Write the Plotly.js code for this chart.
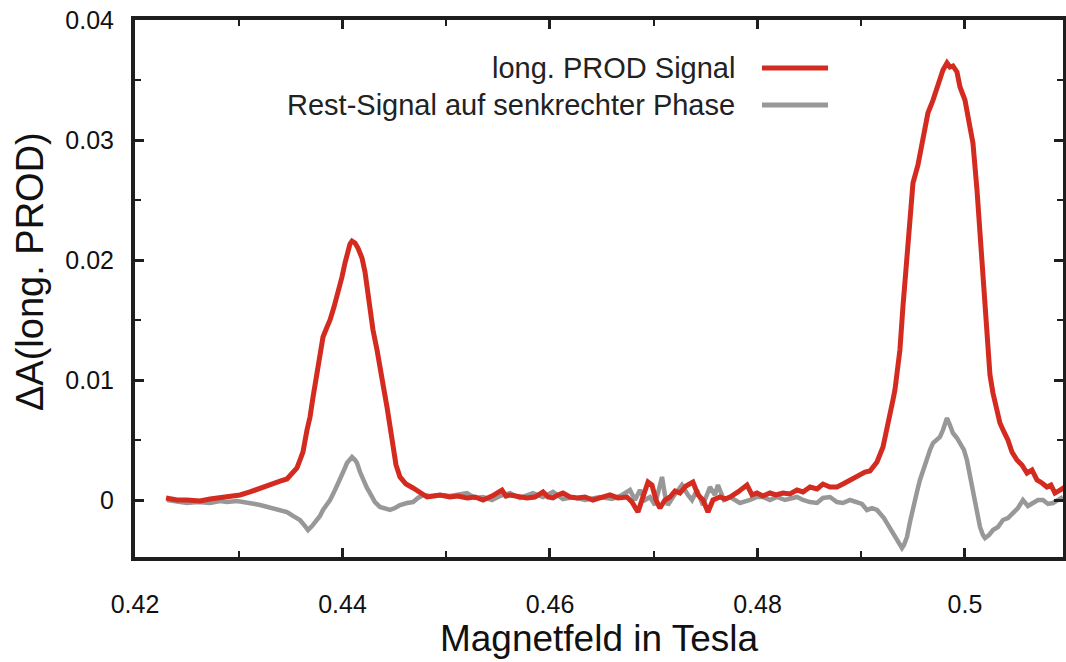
<!DOCTYPE html>
<html>
<head>
<meta charset="utf-8">
<script src="https://cdn.plot.ly/plotly-3.0.1.min.js"></script>
<style>html,body{margin:0;padding:0;background:#fff;}#chart{width:1066px;height:662px;}</style>
</head>
<body>
<div id="chart"></div>
<script>
// Magnetic field (Tesla) and signal values
const redX = [0.42299,0.42405,0.42501,0.42627,0.42723,0.42819,0.42916,0.43012,0.43108,0.43205,
0.43272,0.43330,0.43398,0.43465,0.43523,0.43561,0.43590,0.43619,0.43658,0.43687,
0.43716,0.43754,0.43783,0.43812,0.43851,0.43880,0.43918,0.43947,0.43976,0.43995,
0.44024,0.44043,0.44072,0.44092,0.44121,0.44149,0.44188,0.44217,0.44236,0.44265,
0.44294,0.44333,0.44361,0.44400,0.44429,0.44458,0.44487,0.44516,0.44554,0.44612,
0.44680,0.44747,0.44815,0.44882,0.44940,0.45036,0.45113,0.45200,0.45277,0.45354,
0.45441,0.45537,0.45576,0.45614,0.45692,0.45778,0.45855,0.45933,0.45981,0.46029,
0.46077,0.46125,0.46193,0.46260,0.46337,0.46414,0.46482,0.46578,0.46655,0.46742,
0.46790,0.46848,0.46896,0.46945,0.46983,0.47022,0.47060,0.47108,0.47157,0.47205,
0.47253,0.47311,0.47378,0.47427,0.47475,0.47523,0.47571,0.47639,0.47687,0.47735,
0.47812,0.47899,0.47947,0.47995,0.48053,0.48120,0.48178,0.48246,0.48313,0.48381,
0.48439,0.48506,0.48574,0.48631,0.48699,0.48766,0.48824,0.48892,0.48940,0.48988,
0.49036,0.49084,0.49152,0.49210,0.49248,0.49277,0.49306,0.49325,0.49354,0.49373,
0.49402,0.49431,0.49470,0.49499,0.49547,0.49595,0.49643,0.49692,0.49740,0.49788,
0.49827,0.49855,0.49884,0.49923,0.49952,0.50000,0.50048,0.50077,0.50116,0.50145,
0.50173,0.50193,0.50222,0.50241,0.50270,0.50308,0.50337,0.50376,0.50414,0.50453,
0.50501,0.50549,0.50598,0.50646,0.50694,0.50742,0.50790,0.50829,0.50867,0.50916,
0.50964];
const redY = [0.00017,0.00000,0.00000,-0.00008,0.00008,0.00017,0.00025,0.00042,0.00067,0.00100,
0.00117,0.00142,0.00158,0.00175,0.00225,0.00267,0.00333,0.00400,0.00583,0.00692,
0.00858,0.01042,0.01167,0.01358,0.01442,0.01500,0.01608,0.01692,0.01792,0.01858,
0.01975,0.02058,0.02133,0.02158,0.02142,0.02100,0.02017,0.01900,0.01775,0.01608,
0.01417,0.01250,0.01083,0.00917,0.00775,0.00600,0.00442,0.00292,0.00192,0.00133,
0.00100,0.00058,0.00025,0.00033,0.00042,0.00025,0.00033,0.00017,0.00025,0.00000,
0.00033,0.00083,0.00033,0.00042,0.00025,0.00017,0.00025,0.00067,0.00025,0.00017,
0.00042,0.00058,0.00025,0.00017,0.00025,0.00000,0.00017,0.00042,0.00017,0.00025,
-0.00017,-0.00100,0.00025,0.00150,0.00125,0.00000,-0.00067,0.00000,0.00025,0.00075,
0.00058,0.00117,0.00150,0.00042,0.00000,-0.00100,0.00000,0.00025,0.00008,0.00025,
0.00067,0.00125,0.00042,0.00058,0.00033,0.00058,0.00042,0.00058,0.00050,0.00083,
0.00067,0.00108,0.00092,0.00133,0.00108,0.00108,0.00133,0.00167,0.00183,0.00208,
0.00233,0.00242,0.00317,0.00442,0.00583,0.00725,0.00833,0.00917,0.01083,0.01250,
0.01608,0.01917,0.02225,0.02642,0.02792,0.03000,0.03225,0.03333,0.03475,0.03583,
0.03642,0.03608,0.03617,0.03567,0.03442,0.03333,0.03108,0.02975,0.02583,0.02192,
0.01808,0.01608,0.01250,0.01042,0.00892,0.00750,0.00642,0.00567,0.00500,0.00400,
0.00333,0.00292,0.00225,0.00250,0.00167,0.00142,0.00108,0.00125,0.00058,0.00083,
0.00108];

const grayX = [0.42308,0.42405,0.42501,0.42607,0.42723,0.42819,0.42887,0.42983,0.43080,0.43157,
0.43205,0.43272,0.43330,0.43398,0.43465,0.43523,0.43590,0.43639,0.43668,0.43706,
0.43754,0.43783,0.43812,0.43841,0.43880,0.43928,0.43976,0.44015,0.44043,0.44072,
0.44092,0.44121,0.44140,0.44169,0.44198,0.44236,0.44265,0.44313,0.44361,0.44410,
0.44458,0.44506,0.44554,0.44622,0.44680,0.44728,0.44776,0.44843,0.44940,0.45036,
0.45133,0.45200,0.45277,0.45354,0.45441,0.45518,0.45614,0.45711,0.45836,0.45933,
0.46029,0.46125,0.46222,0.46337,0.46482,0.46598,0.46694,0.46771,0.46819,0.46868,
0.46916,0.46964,0.47012,0.47051,0.47080,0.47108,0.47137,0.47186,0.47234,0.47272,
0.47330,0.47369,0.47417,0.47475,0.47542,0.47590,0.47619,0.47677,0.47735,0.47831,
0.47928,0.47995,0.48053,0.48120,0.48188,0.48265,0.48381,0.48439,0.48506,0.48574,
0.48631,0.48699,0.48766,0.48824,0.48892,0.48959,0.49007,0.49055,0.49104,0.49152,
0.49181,0.49219,0.49248,0.49277,0.49306,0.49345,0.49373,0.49393,0.49412,0.49441,
0.49470,0.49499,0.49537,0.49566,0.49605,0.49634,0.49663,0.49692,0.49730,0.49759,
0.49788,0.49827,0.49855,0.49884,0.49923,0.49952,0.49990,0.50019,0.50048,0.50077,
0.50116,0.50145,0.50173,0.50193,0.50231,0.50270,0.50318,0.50366,0.50414,0.50463,
0.50511,0.50559,0.50607,0.50655,0.50704,0.50752,0.50800,0.50848,0.50896,0.50945];
const grayY = [0.00000,-0.00017,-0.00025,-0.00017,-0.00025,-0.00008,-0.00017,-0.00008,-0.00017,-0.00033,
-0.00042,-0.00058,-0.00067,-0.00083,-0.00100,-0.00133,-0.00167,-0.00217,-0.00250,-0.00217,
-0.00167,-0.00133,-0.00083,-0.00050,0.00000,0.00083,0.00167,0.00250,0.00308,0.00342,
0.00358,0.00333,0.00308,0.00233,0.00167,0.00100,0.00058,-0.00017,-0.00058,-0.00075,
-0.00083,-0.00067,-0.00042,-0.00025,-0.00017,0.00017,0.00042,0.00033,0.00042,0.00033,
0.00050,0.00058,0.00017,0.00025,0.00000,0.00033,0.00058,0.00017,0.00058,0.00025,
0.00067,0.00008,0.00025,0.00000,0.00025,0.00008,0.00042,0.00083,0.00000,0.00083,
0.00000,0.00025,-0.00042,0.00083,0.00192,0.00042,-0.00042,0.00025,0.00083,0.00125,
0.00042,0.00000,0.00083,-0.00042,0.00108,0.00042,0.00125,0.00000,0.00025,-0.00025,
0.00000,0.00025,0.00025,0.00000,0.00025,0.00000,0.00025,0.00000,-0.00017,-0.00025,
0.00017,0.00025,-0.00017,-0.00025,0.00000,-0.00017,-0.00033,-0.00083,-0.00067,-0.00083,
-0.00108,-0.00150,-0.00192,-0.00233,-0.00275,-0.00333,-0.00375,-0.00400,-0.00375,-0.00308,
-0.00183,-0.00058,0.00067,0.00167,0.00267,0.00358,0.00417,0.00475,0.00500,0.00525,
0.00583,0.00683,0.00625,0.00558,0.00517,0.00475,0.00417,0.00333,0.00208,0.00058,
-0.00083,-0.00225,-0.00292,-0.00317,-0.00292,-0.00250,-0.00225,-0.00167,-0.00150,-0.00108,
-0.00067,0.00000,-0.00050,-0.00025,0.00000,0.00000,-0.00033,-0.00025,0.00000,0.00025];

const seriesNames = ["long. PROD Signal", "Rest-Signal auf senkrechter Phase"];
const seriesColors = ["#d42b21", "#989898"];
const xTitle = "Magnetfeld in Tesla";
const yTitle = "ΔA(long. PROD)";

const FONT = "Arial, 'Liberation Sans', Helvetica, sans-serif";
const AX = "#1e1e1e";

const traces = [
  {x: grayX, y: grayY, type: "scatter", mode: "lines", name: seriesNames[1],
   line: {color: seriesColors[1], width: 4.5}, showlegend: false, hoverinfo: "skip"},
  {x: redX, y: redY, type: "scatter", mode: "lines", name: seriesNames[0],
   line: {color: seriesColors[0], width: 5}, showlegend: false, hoverinfo: "skip"}
];

const legendRows = [0.9106, 0.8417];
const shapes = [];
const annotations = [];
seriesNames.forEach((n, i) => {
  annotations.push({xref: "paper", yref: "paper", x: 0.6487, y: legendRows[i],
    xanchor: "right", yanchor: "middle", showarrow: false, text: n,
    font: {family: FONT, size: 29, color: "#222"}});
  shapes.push({type: "line", xref: "paper", yref: "paper", x0: 0.6756, x1: 0.7468,
    y0: legendRows[i], y1: legendRows[i], line: {color: seriesColors[i], width: 5}});
});
// y-axis title placed as rotated text
annotations.push({xref: "paper", yref: "paper", x: -0.1131, y: 0.5307,
  xanchor: "center", yanchor: "middle", showarrow: false, textangle: -90, text: yTitle,
  font: {family: FONT, size: 38, color: "#111"}});

const axisCommon = {
  showgrid: false, zeroline: false, showline: true, linewidth: 4, linecolor: AX,
  mirror: "ticks", ticks: "inside", ticklen: 9, tickwidth: 3, tickcolor: AX,
  tickfont: {family: FONT, size: 25, color: "#111"}
};

const layout = {
  width: 1066, height: 662,
  margin: {l: 135, r: 3, t: 20, b: 105},
  paper_bgcolor: "#fff", plot_bgcolor: "#fff",
  showlegend: false,
  font: {family: FONT, color: "#111"},
  xaxis: Object.assign({}, axisCommon, {
    range: [0.42, 0.50945], tick0: 0.42, dtick: 0.02,
    minor: {dtick: 0.01, ticks: "inside", ticklen: 6, tickwidth: 2, tickcolor: AX, showgrid: false},
    ticklabelstandoff: 22,
    title: {text: xTitle, font: {family: FONT, size: 37, color: "#111"}, standoff: 6}
  }),
  yaxis: Object.assign({}, axisCommon, {
    range: [-0.00475, 0.04], tick0: 0, dtick: 0.01,
    minor: {dtick: 0.005, ticks: "inside", ticklen: 6, tickwidth: 2, tickcolor: AX, showgrid: false},
    ticklabelstandoff: 12
  }),
  shapes: shapes,
  annotations: annotations
};

Plotly.newPlot("chart", traces, layout, {staticPlot: true, displayModeBar: false});
</script>
</body>
</html>
